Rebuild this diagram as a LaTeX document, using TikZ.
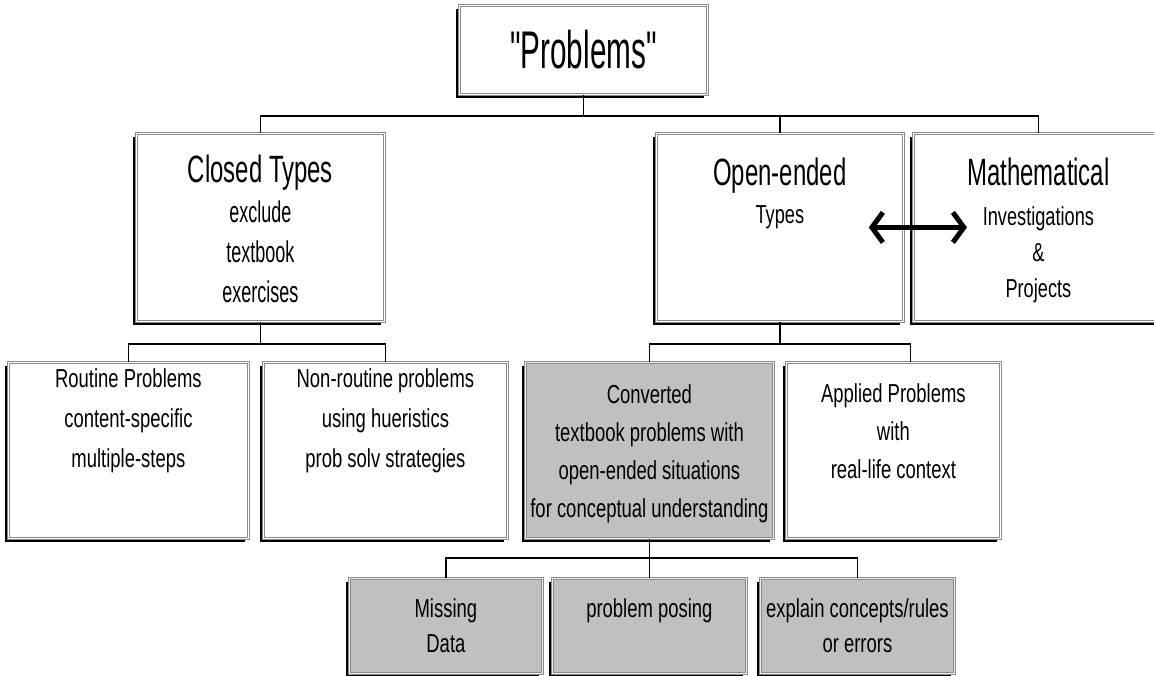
\documentclass[tikz,border=0pt]{standalone}
\usepackage{fontspec}
\setmainfont{Liberation Sans}
\newfontfamily\fbig[FakeStretch=0.56]{Liberation Sans}
\newfontfamily\fhead[FakeStretch=0.63]{Liberation Sans}
\newfontfamily\fsub[FakeStretch=0.6]{Liberation Sans}
\newfontfamily\fsmall[FakeStretch=0.7]{Liberation Sans}
\newfontfamily\fbody[FakeStretch=0.71]{Liberation Sans}
\usetikzlibrary{arrows.meta,calc,shadows}
\definecolor{boxgray}{HTML}{C0C0C0}
\definecolor{rimgray}{HTML}{8A8A8A}
\tikzset{
>=Stealth,
box/.style={draw=rimgray,double=white,double distance=1.1pt,line width=0.8pt,fill=white,
  inner sep=0pt,anchor=north west,
  drop shadow={shadow xshift=-3.5pt,shadow yshift=-4pt,fill=black,opacity=1}},
greybox/.style={box,fill=boxgray,double=gray!15},
link/.style={line width=1.3pt},
twoway/.style={{Straight Barb[length=11pt,width=30pt]}-{Straight Barb[length=11pt,width=30pt]},line width=5pt},
head/.style={font=\fhead\fontsize{38}{40}\selectfont,anchor=base,inner sep=0pt},
sub/.style={font=\fsub\fontsize{30}{40}\selectfont,align=center,anchor=north,inner sep=0pt},
small sub/.style={font=\fsmall\fontsize{26}{36}\selectfont,align=center,anchor=north,inner sep=0pt},
body/.style={font=\fbody\fontsize{26}{40}\selectfont,align=center,anchor=north,inner sep=0pt},
tight body/.style={body,font=\fbody\fontsize{26}{38}\selectfont},
low body/.style={body,font=\fbody\fontsize{26}{35}\selectfont}}

\begin{document}
\begin{tikzpicture}[x=1pt,y=-1pt]

\useasboundingbox (0,0) rectangle (1154,675);
\clip (0,0) rectangle (1154,675);

% boxes
\node[box,minimum width=248,minimum height=89,font=\fbig\fontsize{53}{60}\selectfont] (problems) at (459,5) {"Problems"};

\node[box,minimum width=248,minimum height=188] (closed) at (136,133) {};
\node[box,minimum width=247,minimum height=188] (open) at (656,133) {};
\node[box,minimum width=250,minimum height=188] (math) at (913,133) {};

\node[box,minimum width=240,minimum height=176] (routine) at (8,362) {};
\node[box,minimum width=244,minimum height=176] (nonroutine) at (263,362) {};
\node[greybox,minimum width=248,minimum height=176] (converted) at (525,362) {};
\node[box,minimum width=214,minimum height=176] (applied) at (786,362) {};

\node[greybox,minimum width=193,minimum height=95] (missing) at (349,578) {};
\node[greybox,minimum width=194,minimum height=95] (posing) at (552,578) {};
\node[greybox,minimum width=194,minimum height=95] (explain) at (760,578) {};

% texts
\node[head] (closed-h) at ($(closed.north)+(0,49)$) {Closed Types};
\node[sub] (closed-t) at ($(closed.north)+(0,68)$) {exclude\\textbook\\exercises};
\node[head] (open-h) at ($(open.north)+(0,52)$) {Open-ended};
\node[small sub] (open-t) at ($(open.north)+(0,72)$) {Types};
\node[head] (math-h) at ($(math.north)+(0,52)$) {Mathematical};
\node[small sub] (math-t) at ($(math.north)+(0,73)$) {Investigations\\\&\\Projects};

\node[body] (routine-t) at ($(routine.north)+(0,6)$) {Routine Problems\\content-specific\\multiple-steps};
\node[body] (nonroutine-t) at ($(nonroutine.north)+(0,6)$) {Non-routine problems\\using hueristics\\prob solv strategies};
\node[tight body] (converted-t) at ($(converted.north)+(0,22)$) {Converted\\textbook problems with\\open-ended situations\\for conceptual understanding};
\node[tight body] (applied-t) at ($(applied.north)+(0,21)$) {Applied Problems\\with\\real-life context};

\node[low body] (missing-t) at ($(missing.north)+(0,20)$) {Missing\\Data};
\node[low body] (posing-t) at ($(posing.north)+(0,20)$) {problem posing};
\node[low body] (explain-t) at ($(explain.north)+(0,20)$) {explain concepts/rules\\or errors};

% connectors
\coordinate (bus0) at (0,116);
\coordinate (bus1) at (0,344);
\coordinate (bus2) at (0,558);
\coordinate (applied-in) at ([xshift=17pt]applied.north);

\draw[link] (problems.south) |- (closed.north |- bus0) -- (closed.north);
\draw[link] (problems.south) |- (open.north |- bus0) -- (open.north);
\draw[link] (problems.south) |- (math.north |- bus0) -- (math.north);

\draw[link] (closed.south) |- (routine.north |- bus1) -- (routine.north);
\draw[link] (closed.south) |- (nonroutine.north |- bus1) -- (nonroutine.north);
\draw[link] (open.south) |- (converted.north |- bus1) -- (converted.north);
\draw[link] (open.south) |- (applied-in |- bus1) -- (applied-in);

\draw[link] (converted.south) |- (missing.north |- bus2) -- (missing.north);
\draw[link] (converted.south) -- (posing.north);
\draw[link] (converted.south) |- (explain.north |- bus2) -- (explain.north);

\draw[twoway] ([xshift=-35pt]open.east) -- ([xshift=54pt]math.west);

\end{tikzpicture}
\end{document}
